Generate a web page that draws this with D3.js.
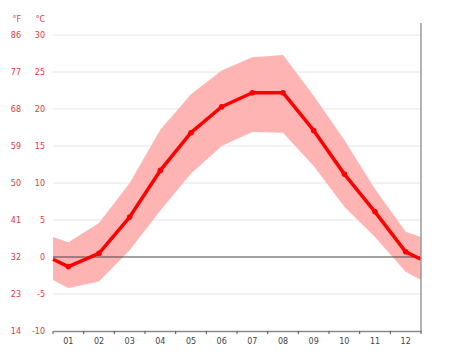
<!DOCTYPE html>
<html>
<head>
<meta charset="utf-8">
<script src="https://cdn.jsdelivr.net/npm/d3@7"></script>
<style>
  body { margin: 0; background: #fff; }
  text { font-family: "DejaVu Sans", sans-serif; }
</style>
</head>
<body>
<script>
// Monthly climate values (degrees C)
const months = ['01', '02', '03', '04', '05', '06', '07', '08', '09', '10', '11', '12']
const meanTemp = [-1.3, 0.5, 5.4, 11.7, 16.8, 20.3, 22.2, 22.2, 17.1, 11.2, 6.1, 0.7]
const highTemp = [2.0, 4.6, 10.0, 17.2, 22.0, 25.2, 27.0, 27.3, 21.8, 15.8, 9.2, 3.4]
const lowTemp = [-4.2, -3.3, 0.9, 6.3, 11.3, 15.0, 16.9, 16.8, 12.3, 6.8, 2.7, -2.0]
// value at the left/right edges of the plot (wrap between Dec and Jan)
const edgeMean = -0.3
const edgeHigh = 2.7
const edgeLow = -3.1
const celsiusTicks = [30, 25, 20, 15, 10, 5, 0, -5, -10]
const fahrenheitTicks = [86, 77, 68, 59, 50, 41, 32, 23, 14]

const WIDTH = 474
const HEIGHT = 355
const margin = { left: 53, right: 421, top: 35, bottom: 331 }

const svg = d3.select('body')
  .append('svg')
  .attr('width', WIDTH)
  .attr('height', HEIGHT)

const x = d3.scaleBand()
  .domain(months)
  .range([margin.left, margin.right])

const y = d3.scaleLinear()
  .domain([-10, 30])
  .range([margin.bottom, margin.top])

const cx = m => x(m) + x.bandwidth() / 2

// Grid lines
svg.append('g')
  .selectAll('line')
  .data(celsiusTicks.filter(t => t !== -10 && t !== 0))
  .join('line')
  .attr('x1', margin.left)
  .attr('x2', margin.right)
  .attr('y1', d => y(d))
  .attr('y2', d => y(d))
  .attr('stroke', '#e4e4e4')
  .attr('stroke-width', 1)

// Tick labels, Celsius and Fahrenheit columns
svg.append('g')
  .selectAll('text')
  .data(celsiusTicks)
  .join('text')
  .attr('x', 45)
  .attr('y', d => y(d) + 3)
  .attr('text-anchor', 'end')
  .attr('font-size', 8)
  .attr('fill', '#e8363c')
  .text(d => d)

svg.append('g')
  .selectAll('text')
  .data(fahrenheitTicks)
  .join('text')
  .attr('x', 21)
  .attr('y', (d, i) => y(celsiusTicks[i]) + 3)
  .attr('text-anchor', 'end')
  .attr('font-size', 8)
  .attr('fill', '#e8363c')
  .text(d => d)

svg.append('text')
  .attr('x', 21).attr('y', 22)
  .attr('text-anchor', 'end')
  .attr('font-size', 8)
  .attr('fill', '#e8363c')
  .text('°F')

svg.append('text')
  .attr('x', 45).attr('y', 22)
  .attr('text-anchor', 'end')
  .attr('font-size', 8)
  .attr('fill', '#e8363c')
  .text('°C')

// Points including the wrap-around edges
const bandPts = [[margin.left, edgeHigh, edgeLow]]
  .concat(months.map((m, i) => [cx(m), highTemp[i], lowTemp[i]]))
  .concat([[margin.right, edgeHigh, edgeLow]])

const linePts = [[margin.left, edgeMean]]
  .concat(months.map((m, i) => [cx(m), meanTemp[i]]))
  .concat([[margin.right, edgeMean]])

// Min/max band
svg.append('path')
  .datum(bandPts)
  .attr('fill', '#ffb4b4')
  .attr('d', d3.area()
    .x(d => d[0])
    .y0(d => y(d[2]))
    .y1(d => y(d[1])))

// Zero line
svg.append('line')
  .attr('x1', margin.left)
  .attr('x2', margin.right)
  .attr('y1', y(0))
  .attr('y2', y(0))
  .attr('stroke', '#444')
  .attr('stroke-width', 1)

// Mean line
svg.append('path')
  .datum(linePts)
  .attr('fill', 'none')
  .attr('stroke', '#f00')
  .attr('stroke-width', 3.5)
  .attr('stroke-linejoin', 'round')
  .attr('d', d3.line()
    .x(d => d[0])
    .y(d => y(d[1])))

svg.append('g')
  .selectAll('circle')
  .data(months)
  .join('circle')
  .attr('cx', d => cx(d))
  .attr('cy', (d, i) => y(meanTemp[i]))
  .attr('r', 2.8)
  .attr('fill', '#f00')

// Bottom axis
const xAxis = svg.append('g')
  .attr('transform', `translate(0,${margin.bottom})`)
  .call(d3.axisBottom(x).tickSize(0).tickPadding(7))
xAxis.select('.domain').attr('stroke', '#888').attr('stroke-width', 1.5)
xAxis.selectAll('text')
  .attr('font-size', 8)
  .attr('fill', '#444')
  .attr('font-family', '"DejaVu Sans", sans-serif')

// Ticks between months
svg.append('g')
  .selectAll('line')
  .data(months.map(m => x(m)).concat([margin.right]))
  .join('line')
  .attr('x1', d => d)
  .attr('x2', d => d)
  .attr('y1', margin.bottom)
  .attr('y2', margin.bottom + 3)
  .attr('stroke', '#555')

// Right frame line
svg.append('line')
  .attr('x1', margin.right)
  .attr('x2', margin.right)
  .attr('y1', 23)
  .attr('y2', margin.bottom)
  .attr('stroke', '#999')
  .attr('stroke-width', 1.5)
</script>
</body>
</html>
